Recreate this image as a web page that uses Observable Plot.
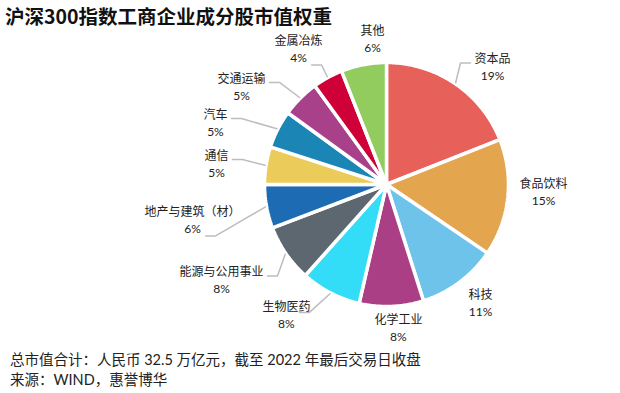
<!DOCTYPE html>
<html>
<head>
<meta charset="utf-8">
<script src="https://cdn.jsdelivr.net/npm/d3@7"></script>
<script src="https://cdn.jsdelivr.net/npm/@observablehq/plot@0.6"></script>
<style>
  html, body { margin: 0; padding: 0; background: #fff; }
  body { width: 620px; height: 393px; overflow: hidden; font-family: Lato, "Noto Sans CJK SC", sans-serif; }
  #title { height: 20px; line-height: 20px; position: relative; top: 6px; z-index: 1; padding-left: 5px; font-size: 19.5px; font-weight: bold; color: #111; font-family: "Noto Sans CJK SC", sans-serif; white-space: nowrap; }
  #chart svg { display: block; }
  .cap { height: 20px; line-height: 20px; padding-left: 10px; font-size: 14.5px; color: #222; white-space: nowrap; }
</style>
</head>
<body>
<div id="title">沪深300指数工商企业成分股市值权重</div>
<div id="chart"></div>
<div class="cap">总市值合计：人民币 32.5 万亿元，截至 2022 年最后交易日收盘</div>
<div class="cap">来源：WIND，惠誉博华</div>
<script>
// ---- data ----
const names = ["资本品", "食品饮料", "科技", "化学工业", "生物医药", "能源与公用事业", "地产与建筑（材）", "通信", "汽车", "交通运输", "金属冶炼", "其他"];
const values = [19, 15.5, 10.6, 8.5, 8, 7.6, 5.8, 5, 5, 5, 4, 6];
const pctLabels = ["19%", "15%", "11%", "8%", "8%", "8%", "6%", "5%", "5%", "5%", "4%", "6%"];
const colors = ["#E8605A", "#E4A54F", "#6DC3EA", "#AA3F86", "#33DDF8", "#5C6770", "#1D6BB2", "#EBCC5A", "#1B86B6", "#A9418A", "#CE0037", "#92CB5E"];

// ---- label layout (angle clockwise from 12 o'clock in degrees, distance from centre) ----
const labelAngle = [42.3, 92.9, 141.8, 175.3, 217.3, 239.7, 259.5, 276.7, 289.6, 303.8, 326.9, 354.5];
const labelDist = [157.5, 157.2, 152, 145, 165.2, 191.1, 197.3, 171.2, 181.6, 174.5, 161.1, 145.7];
// leader line: 0 none, 1 to name row, 2 to percent row, 3 beside percent at name row
const leaderMode = [1, 0, 0, 0, 3, 1, 2, 1, 1, 1, 2, 0];

const W = 620, H = 330, cx = 386, cy = 164, R = 122;
const polar = (a, r) => [cx + r * Math.sin(a), cy - r * Math.cos(a)];
const arcs = d3.pie().sort(null).value(d => d)(values);

// slice polygons
const slicePts = [];
arcs.forEach((a, i) => {
  const [x0, y0] = polar(0, 0);
  slicePts.push({name: names[i], x: x0, y: y0});
  const n = Math.max(4, Math.ceil((a.endAngle - a.startAngle) / 0.01));
  for (let k = 0; k <= n; k++) {
    const t = a.startAngle + (a.endAngle - a.startAngle) * k / n;
    const [x, y] = polar(t, R);
    slicePts.push({name: names[i], x, y});
  }
});

// labels
const nameW = s => [...s].length * 12;
const pctW = s => (s.length - 1) * 6.7 + 9.5;
const labels = names.map((nm, i) => {
  const a = labelAngle[i] * Math.PI / 180;
  const [x, y] = polar(a, labelDist[i]);
  return {name: nm, pct: pctLabels[i], x, y, i};
});

const leaderPts = [];
labels.forEach(l => {
  const mode = leaderMode[l.i];
  if (!mode) return;
  const a = arcs[l.i];
  const mid = (a.startAngle + a.endAngle) / 2;
  const side = l.x < cx ? 1 : -1;
  let w, gap, ly;
  if (mode === 1) { w = nameW(l.name); gap = 4; ly = l.y - 5; }
  else if (mode === 2) { w = pctW(l.pct); gap = 5; ly = l.y + 15.5; }
  else { w = pctW(l.pct); gap = 5; ly = l.y - 3.5; }
  const ex = l.x + side * (w / 2 + gap);
  const [sx, sy] = polar(mid, R + 1);
  leaderPts.push({name: l.name, x: sx, y: sy});
  leaderPts.push({name: l.name, x: ex + side * 10, y: ly});
  leaderPts.push({name: l.name, x: ex, y: ly});
});

const chart = Plot.plot({
  width: W, height: H,
  margin: 0,
  x: {domain: [0, W], range: [0, W], axis: null},
  y: {domain: [0, H], range: [0, H], axis: null},
  color: {domain: names, range: colors},
  style: {fontFamily: 'Lato, "Noto Sans CJK SC", sans-serif', background: "white"},
  marks: [
    Plot.line(slicePts, {x: "x", y: "y", z: "name", fill: "name", stroke: "white", strokeWidth: 3.5, strokeLinejoin: "miter", curve: "linear-closed"}),
    Plot.line(leaderPts, {x: "x", y: "y", z: "name", stroke: "#BDBDBD", strokeWidth: 1.5, strokeLinejoin: "miter", curve: "linear"}),
    Plot.text(labels, {x: "x", y: d => d.y - 8.5, text: "name", fontSize: 12, fill: "#222"}),
    Plot.text(labels, {x: "x", y: d => d.y + 8.5, text: "pct", fontSize: 12, fill: "#222"})
  ]
});
document.getElementById("chart").appendChild(chart);
</script>
</body>
</html>
